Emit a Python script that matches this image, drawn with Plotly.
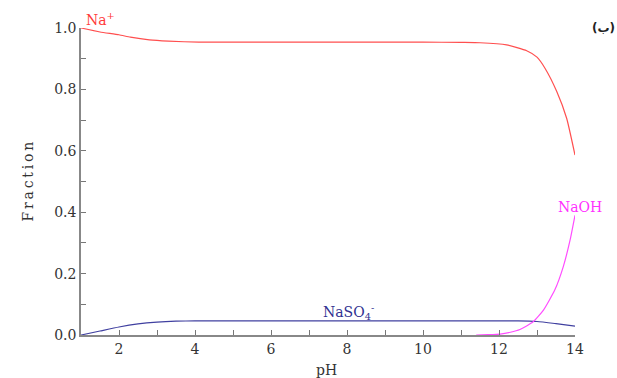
import plotly.graph_objects as go

# Data
ph_na = [1.0, 1.5, 2.0, 2.3, 2.8, 3.3, 4.1, 6, 8, 10, 11, 11.5, 12.2, 12.73, 13.0, 13.21, 13.52, 13.78, 14.0]
na_plus = [1.0, 0.987, 0.978, 0.97, 0.961, 0.957, 0.954, 0.954, 0.954, 0.954, 0.953, 0.952, 0.945, 0.926, 0.905, 0.869, 0.793, 0.706, 0.586]

ph_so4 = [1.0, 1.5, 2.0, 2.5, 3.0, 3.5, 4.0, 6, 8, 10, 12, 12.5, 13.0, 13.5, 14.0]
naso4 = [0.0, 0.013, 0.026, 0.036, 0.042, 0.045, 0.046, 0.046, 0.046, 0.046, 0.046, 0.046, 0.044, 0.037, 0.029]

ph_oh = [11.4, 11.7, 12.03, 12.3, 12.55, 12.9, 13.17, 13.47, 13.69, 13.87, 14.0]
naoh = [0.0, 0.001, 0.003, 0.009, 0.018, 0.043, 0.081, 0.147, 0.222, 0.309, 0.39]

y_ticks = [round(i * 0.1, 1) for i in range(11)]
y_text = [f"{v:.1f}" if i % 2 == 0 else "" for i, v in enumerate(y_ticks)]
x_ticks = list(range(1, 15))
x_text = [str(v) if v % 2 == 0 else "" for v in x_ticks]

fig = go.Figure()
fig.add_trace(go.Scatter(x=ph_na, y=na_plus, mode="lines", line=dict(color="#ff4f4f", width=1.2, shape="spline", smoothing=0.5), showlegend=False))
fig.add_trace(go.Scatter(x=ph_so4, y=naso4, mode="lines", line=dict(color="#4040a0", width=1.2, shape="spline", smoothing=0.5), showlegend=False))
fig.add_trace(go.Scatter(x=ph_oh, y=naoh, mode="lines", line=dict(color="#ff4cff", width=1.2, shape="spline", smoothing=0.5), showlegend=False))

serif = "DejaVu Serif"
fig.add_annotation(x=1.0, y=1.0, xref="x", yref="y", text="Na<sup>+</sup>", showarrow=False,
                   xanchor="left", yanchor="bottom", xshift=3, yshift=-2, font=dict(family=serif, size=14, color="#ff3a3a"))
fig.add_annotation(x=14.0, y=0.417, xref="x", yref="y", text="NaOH", showarrow=False,
                   xanchor="center", yanchor="middle", xshift=5, font=dict(family=serif, size=14, color="#ff30ff"))
fig.add_annotation(x=8.03, y=0.075, xref="x", yref="y", text="NaSO<sub>4</sub><sup>-</sup>", showarrow=False,
                   xanchor="center", yanchor="middle", font=dict(family=serif, size=14, color="#303090"))
fig.add_annotation(x=1.0, y=1.0, xref="paper", yref="paper", text="<b>(ب)</b>", showarrow=False,
                   xanchor="center", yanchor="middle", xshift=28, yshift=0, font=dict(family="DejaVu Sans", size=12, color="#222"))
# axis titles
fig.add_annotation(x=0, y=0.5, xref="paper", yref="paper", text="F\u2009r\u2009a\u2009c\u2009t\u2009i\u2009o\u2009n", showarrow=False,
                   textangle=-90, xanchor="center", yanchor="middle", xshift=-54, font=dict(family=serif, size=14, color="#333"))
fig.add_annotation(x=7.45, y=0, xref="x", yref="paper", text="pH", showarrow=False,
                   xanchor="center", yanchor="middle", yshift=-35, font=dict(family=serif, size=14, color="#333"))

fig.update_layout(
    width=617, height=378,
    margin=dict(l=81, r=42, t=28, b=43),
    paper_bgcolor="white", plot_bgcolor="white",
    font=dict(family=serif, color="#333"),
)
fig.update_xaxes(range=[1, 14], tickvals=x_ticks, ticktext=x_text, ticks="inside", ticklen=5,
                 tickcolor="#777", showline=True, linecolor="#888", linewidth=1.5, showgrid=False, zeroline=False,
                 automargin=False, tickfont=dict(family=serif, size=14, color="#333"))
fig.update_yaxes(range=[0, 1.0], tickvals=y_ticks, ticktext=y_text, ticks="inside", ticklen=5,
                 tickcolor="#777", showline=True, linecolor="#888", linewidth=1.5, showgrid=False, zeroline=False,
                 automargin=False, tickfont=dict(family=serif, size=14, color="#333"))

fig.write_html("out.html")
